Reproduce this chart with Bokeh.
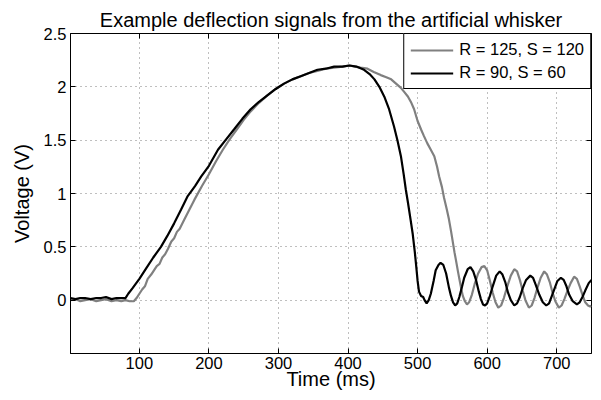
from bokeh.plotting import figure
from bokeh.models import FixedTicker, LinearAxis, Range1d, CustomJSTickFormatter
from bokeh.embed import file_html
from bokeh.resources import INLINE

FONT = "Liberation Sans"

title_text = "Example deflection signals from the artificial whisker"
x_label = "Time (ms)"
y_label = "Voltage (V)"
x_ticks = [100, 200, 300, 400, 500, 600, 700]
y_ticks = [0, 0.5, 1, 1.5, 2, 2.5]
y_tick_labels = {0: "0", 0.5: "0.5", 1: "1", 1.5: "1.5", 2: "2", 2.5: "2.5"}

label_gray = "R = 125, S = 120"
label_black = "R = 90, S = 60"

# R = 125, S = 120 (gray)
gray_t = [1, 8, 15, 22, 30, 38, 45, 52, 60, 67,
          74, 80, 86, 92, 96, 100, 104, 108, 112, 117,
          121, 125, 129, 133, 137, 141, 146, 150, 154, 158,
          165, 172, 179, 190, 200, 210, 220, 230, 240, 250,
          260, 272, 284, 296, 308, 320, 332, 344, 356, 368,
          380, 392, 402, 410, 418, 428, 437, 447, 455, 462,
          469, 476, 481, 486, 491, 495, 500, 505, 509, 514,
          519, 524, 528, 531, 535, 538, 542, 545, 548, 550,
          553, 555, 558, 560, 563, 565, 568, 571, 574, 578,
          582, 587, 592, 596, 600, 604, 608, 612, 616, 620,
          624, 628, 634, 639, 643, 647, 651, 655, 660, 664,
          668, 672, 677, 682, 686, 690, 694, 698, 703, 707,
          711, 715, 720, 725, 729, 733, 737, 741, 745, 748,
          750]
gray_v = [0.0, 0.01, -0.01, 0.0, 0.01, -0.01, 0.0, 0.01, -0.01, 0.0,
          -0.01, 0.0, -0.01, -0.01, 0.02, 0.06, 0.10, 0.13, 0.20, 0.24,
          0.28, 0.32, 0.34, 0.40, 0.43, 0.48, 0.55, 0.58, 0.64, 0.67,
          0.76, 0.85, 0.94, 1.07, 1.18, 1.30, 1.41, 1.51, 1.60, 1.69,
          1.77, 1.85, 1.92, 1.98, 2.03, 2.07, 2.10, 2.13, 2.15, 2.17,
          2.18, 2.19, 2.20, 2.19, 2.18, 2.17, 2.14, 2.11, 2.09, 2.07,
          2.03, 1.99, 1.95, 1.91, 1.85, 1.79, 1.68, 1.60, 1.54, 1.47,
          1.41, 1.35, 1.25, 1.16, 1.06, 0.96, 0.85, 0.76, 0.65, 0.57,
          0.45, 0.38, 0.27, 0.20, 0.10, 0.04, -0.01, -0.04, -0.02, 0.05,
          0.15, 0.25, 0.31, 0.32, 0.28, 0.18, 0.07, -0.02, -0.07, -0.05,
          0.02, 0.11, 0.23, 0.29, 0.27, 0.19, 0.09, 0.0, -0.07, -0.05,
          0.02, 0.11, 0.21, 0.27, 0.24, 0.17, 0.07, -0.01, -0.07, -0.05,
          0.01, 0.08, 0.16, 0.22, 0.20, 0.13, 0.05, -0.02, -0.05, -0.06,
          -0.05]

# R = 90, S = 60 (black)
black_t = [1, 8, 15, 22, 30, 38, 45, 52, 60, 67,
           74, 80, 84, 90, 100, 110, 120, 131, 140, 150,
           160, 169, 180, 189, 200, 213, 225, 236, 248, 260,
           272, 284, 296, 308, 320, 332, 344, 356, 368, 380,
           392, 402, 412, 423, 431, 438, 445, 452, 459, 466,
           471, 476, 480, 483, 486, 490, 493, 496, 498, 500,
           502, 505, 508, 510, 513, 516, 519, 523, 526, 530,
           533, 537, 541, 545, 548, 551, 554, 557, 560, 564,
           567, 572, 576, 580, 584, 588, 591, 594, 597, 600,
           604, 608, 613, 618, 622, 626, 630, 634, 639, 643,
           647, 651, 656, 662, 666, 670, 675, 680, 685, 689,
           693, 697, 701, 706, 710, 714, 718, 723, 729, 733,
           737, 741, 746, 750]
black_v = [0.02, 0.01, 0.02, 0.02, 0.01, 0.02, 0.02, 0.03, 0.01, 0.02,
           0.02, 0.02, 0.06, 0.11, 0.20, 0.30, 0.40, 0.50, 0.60, 0.72,
           0.85, 0.97, 1.07, 1.16, 1.26, 1.41, 1.51, 1.60, 1.70, 1.79,
           1.86, 1.92, 1.98, 2.03, 2.07, 2.10, 2.13, 2.16, 2.17, 2.19,
           2.19, 2.20, 2.19, 2.16, 2.12, 2.07, 2.00, 1.91, 1.79, 1.63,
           1.50, 1.35, 1.18, 1.04, 0.92, 0.75, 0.62, 0.45, 0.32, 0.18,
           0.08, 0.04, 0.03, 0.0, -0.03, 0.0, 0.06, 0.18, 0.28, 0.33,
           0.35, 0.33, 0.25, 0.12, 0.04, -0.02, -0.05, -0.03, 0.03, 0.13,
           0.21, 0.29, 0.31, 0.27, 0.19, 0.08, 0.01, -0.04, -0.05, -0.03,
           0.04, 0.13, 0.23, 0.27, 0.24, 0.17, 0.07, 0.0, -0.05, -0.03,
           0.03, 0.11, 0.19, 0.23, 0.21, 0.14, 0.05, -0.02, -0.05, -0.03,
           0.04, 0.11, 0.18, 0.21, 0.19, 0.13, 0.05, -0.01, -0.04, -0.02,
           0.03, 0.09, 0.16, 0.19]

p = figure(width=593, height=392,
           x_range=Range1d(1, 750), y_range=Range1d(-0.5, 2.5),
           output_backend="svg", toolbar_location=None,
           min_border_left=70, min_border_right=2, min_border_top=33, min_border_bottom=38)

p.title.text = title_text
p.title.text_font = FONT
p.title.text_font_size = "20px"
p.title.text_font_style = "normal"
p.title.text_color = "black"
p.title.align = "center"
p.title.standoff = 5
p.title.offset = 7

p.background_fill_color = "white"
p.border_fill_color = "white"
p.outline_line_color = "black"
p.outline_line_width = 1
p.outline_line_alpha = 1

for ax in (p.xaxis[0], p.yaxis[0]):
    ax.major_label_text_font = FONT
    ax.major_label_text_font_size = "16.5px"
    ax.major_label_text_color = "black"
    ax.axis_label_text_font = FONT
    ax.axis_label_text_font_size = "20px"
    ax.axis_label_text_font_style = "normal"
    ax.axis_label_text_color = "black"
    ax.axis_line_color = "black"
    ax.major_tick_in = 5
    ax.major_tick_out = 0
    ax.major_tick_line_color = "black"
    ax.minor_tick_line_color = None

p.xaxis[0].ticker = FixedTicker(ticks=x_ticks)
p.yaxis[0].ticker = FixedTicker(ticks=y_ticks)
p.yaxis[0].major_label_overrides = y_tick_labels
p.xaxis[0].axis_label = x_label
p.yaxis[0].axis_label = y_label
p.xaxis[0].major_label_standoff = 3
p.xaxis[0].axis_label_standoff = -4
p.yaxis[0].major_label_standoff = 4
p.yaxis[0].axis_label_standoff = 8

blank = CustomJSTickFormatter(code="return ''")
top_ax = LinearAxis(ticker=FixedTicker(ticks=x_ticks), formatter=blank,
                    major_tick_in=5, major_tick_out=0, minor_tick_line_color=None,
                    axis_line_color=None, major_label_standoff=0,
                    major_label_text_font_size="1px", major_tick_line_color="black")
right_ax = LinearAxis(ticker=FixedTicker(ticks=y_ticks), formatter=blank,
                      major_tick_in=5, major_tick_out=0, minor_tick_line_color=None,
                      axis_line_color=None, major_label_standoff=0,
                      major_label_text_font_size="1px", major_tick_line_color="black")
p.add_layout(top_ax, "above")
p.add_layout(right_ax, "right")

p.xgrid.ticker = FixedTicker(ticks=x_ticks)
p.ygrid.ticker = FixedTicker(ticks=y_ticks)
for g in (p.xgrid[0], p.ygrid[0]):
    g.grid_line_color = "black"
    g.grid_line_alpha = 0.5
    g.grid_line_dash = "1 4"
    g.grid_line_width = 1

p.line(gray_t, gray_v, line_color="#808080", line_width=2.2, legend_label=label_gray)
p.line(black_t, black_v, line_color="black", line_width=2.2, legend_label=label_black)

lg = p.legend[0]
lg.location = "top_right"
lg.margin = 0
lg.padding = 6
lg.spacing = 4
lg.border_line_color = "black"
lg.border_line_width = 1
lg.border_line_alpha = 1
lg.background_fill_alpha = 1
lg.glyph_width = 43
lg.glyph_height = 18
lg.label_height = 18
lg.label_standoff = 6
lg.label_text_font = FONT
lg.label_text_font_size = "16.5px"
lg.label_text_color = "black"

open("out.html", "w").write(file_html(p, INLINE))
